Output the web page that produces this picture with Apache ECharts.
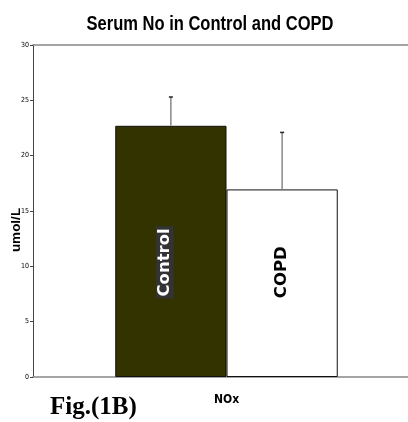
<!DOCTYPE html>
<html><head><meta charset="utf-8">
<script src="https://cdn.jsdelivr.net/npm/echarts@6/dist/echarts.min.js"></script>
<style>html,body{margin:0;padding:0;background:#fff}#c{width:408px;height:422px}</style>
</head><body><div id="c"></div>
<script>
const categories = ['NOx'];
const seriesNames = ['Control', 'COPD'];
const means = [22.7, 16.95];
const errUpper = [25.3, 22.1];
const yTicks = [0, 5, 10, 15, 20, 25, 30];
const titleText = 'Serum No in Control and COPD';
const yAxisTitle = 'umol/L';
const figLabel = 'Fig.(1B)';

const chart = echarts.init(document.getElementById('c'));
const cond = '"DejaVu Sans Condensed", "Liberation Sans", sans-serif';
const colors = ['#333300', '#ffffff'];
const labelOffsets = [[-11, -6], [11, 0]];

const barSeries = seriesNames.map((name, i) => ({
  name: name,
  type: 'bar',
  data: [means[i]],
  barGap: '0%',
  barCategoryGap: '42.5%',
  itemStyle: { color: colors[i], borderColor: '#111', borderWidth: 1 },
  label: {
    show: true, position: 'inside', rotate: 90,
    offset: labelOffsets[i],
    formatter: name,
    fontFamily: '"DejaVu Sans", sans-serif', fontWeight: 'bold', fontSize: 16.5,
    color: i === 0 ? '#fff' : '#000',
    backgroundColor: i === 0 ? '#333333' : 'transparent',
    padding: [1, 2, 0, 2]
  },
  z: 2
}));

const errSeries = {
  type: 'custom',
  data: seriesNames.map((n, i) => [0, means[i], errUpper[i], i]),
  renderItem: function (params, api) {
    const idx = api.value(3);
    const base = api.coord([api.value(0), api.value(1)]);
    const top = api.coord([api.value(0), api.value(2)]);
    const catW = api.size([1, 0])[0];
    const barW = catW * 0.575 / 2;
    const x = base[0] - barW + barW * idx + barW / 2;
    return {
      type: 'group',
      children: [
        { type: 'line', shape: { x1: x, y1: base[1], x2: x, y2: top[1] }, style: { stroke: '#888', lineWidth: 1.5 } },
        { type: 'line', shape: { x1: x - 2, y1: top[1], x2: x + 2, y2: top[1] }, style: { stroke: '#222', lineWidth: 1.5 } }
      ]
    };
  },
  z: 3
};

chart.setOption({
  animation: false,
  grid: { left: 33, right: -12, top: 45, bottom: 45, containLabel: false, outerBoundsMode: 'none' },
  xAxis: [{
    type: 'category', data: categories,
    axisLine: { lineStyle: { color: '#888', width: 1.5 } },
    axisTick: { show: false },
    axisLabel: { fontFamily: cond, fontWeight: 'bold', fontSize: 12, color: '#000', margin: 17 }
  }, {
    type: 'category', data: categories, position: 'top',
    axisLine: { show: true, lineStyle: { color: '#888', width: 1.5 } },
    axisTick: { show: false }, axisLabel: { show: false }
  }],
  yAxis: {
    type: 'value', min: 0, max: 30, interval: 5,
    axisLine: { show: true, lineStyle: { color: '#444', width: 1 } },
    axisTick: { show: true, length: 3, lineStyle: { color: '#444' } },
    splitLine: { show: false },
    axisLabel: { fontFamily: cond, fontSize: 7, color: '#000', margin: 4,
      formatter: v => yTicks.includes(v) ? String(v) : '' }
  },
  graphic: [{
    type: 'text', x: 210, y: 24, scaleX: 0.826, originX: 0,
    style: { text: titleText, fontFamily: '"Liberation Sans", Arial, sans-serif', fontWeight: 'bold', fontSize: 20, fill: '#000', align: 'center', verticalAlign: 'middle' }
  }, {
    type: 'text', x: 16, y: 230, rotation: Math.PI / 2,
    style: { text: yAxisTitle, fontFamily: '"Liberation Sans", Arial, sans-serif', fontWeight: 'bold', fontSize: 13.5, fill: '#000', align: 'center', verticalAlign: 'middle' }
  }, {
    type: 'text', x: 50, y: 408,
    style: { text: figLabel, fontFamily: '"Liberation Serif", "Times New Roman", serif', fontWeight: 'bold', fontSize: 25, fill: '#000', align: 'left', verticalAlign: 'middle' }
  }],
  series: [...barSeries, errSeries]
});
</script></body></html>
